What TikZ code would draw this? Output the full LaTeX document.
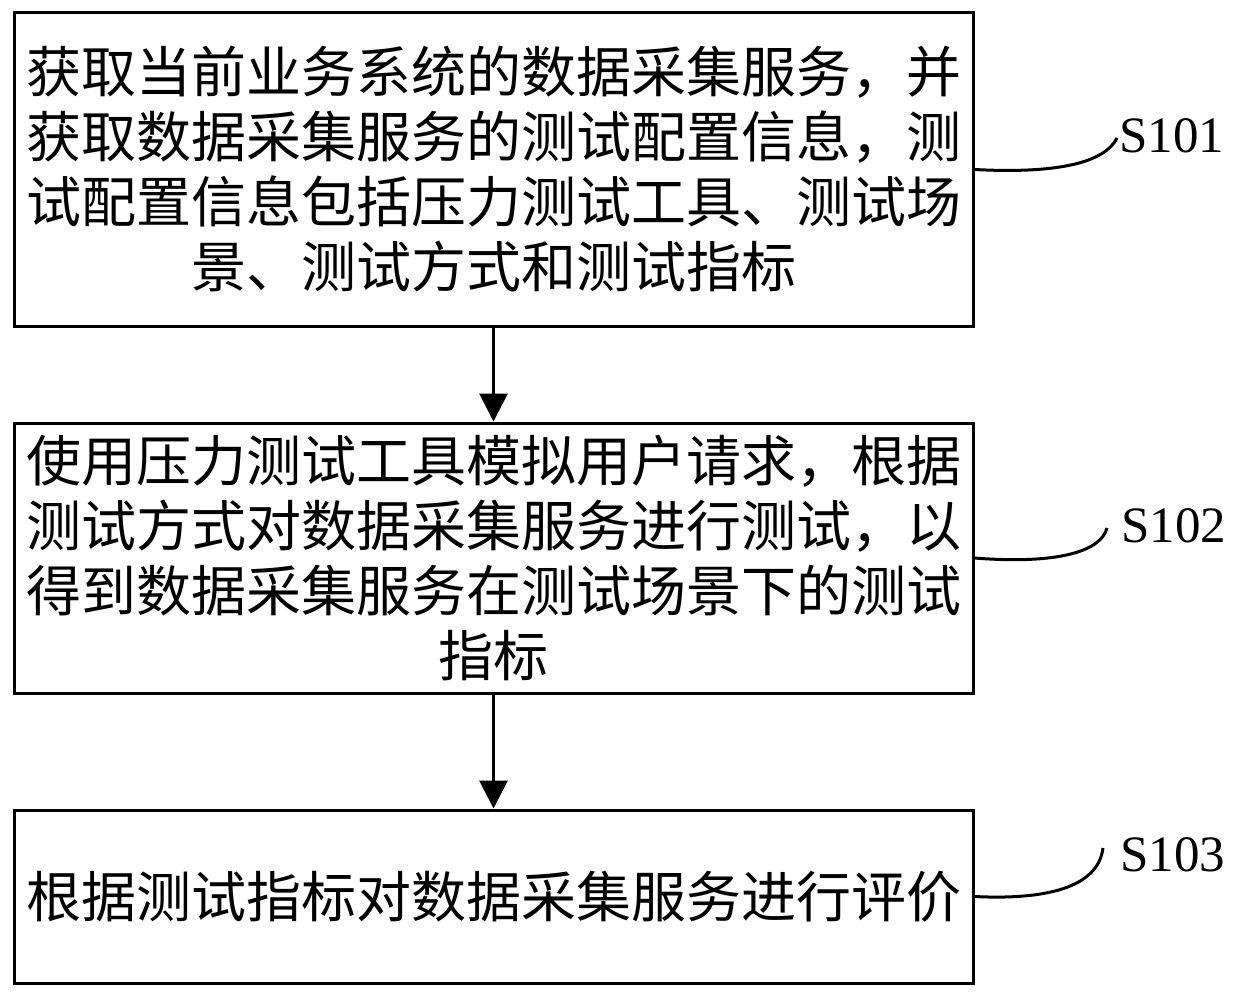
\documentclass[tikz,border=0pt]{standalone}
\usepackage{fontspec}
\setmainfont{Liberation Serif}
\newfontfamily\cjk{Noto Sans CJK SC}[Scale=1]
\usetikzlibrary{arrows.meta}
\begin{document}
\begin{tikzpicture}[x=1pt,y=-1pt,
  box/.style={draw,line width=3pt,minimum width=959pt,inner sep=0pt,align=center,
    font=\cjk\fontsize{55}{65}\selectfont},
  lab/.style={font=\fontsize{51}{60}\selectfont,inner sep=0pt},
  arr/.style={line width=3pt,-{Triangle[width=28pt,length=28pt]}},
  lead/.style={line width=3pt}]
\useasboundingbox (0,0) rectangle (1241,998);
\node[box,minimum height=313pt] (b1) at (493.5,169.5)
  {获取当前业务系统的数据采集服务，并\\获取数据采集服务的测试配置信息，测\\试配置信息包括压力测试工具、测试场\\景、测试方式和测试指标};
\node[box,minimum height=270pt] (b2) at (493.5,558)
  {使用压力测试工具模拟用户请求，根据\\测试方式对数据采集服务进行测试，以\\得到数据采集服务在测试场景下的测试\\指标};
\node[box,minimum height=173pt] (b3) at (493.5,896.5)
  {根据测试指标对数据采集服务进行评价};
\draw[arr] (b1.south) -- (b2.north);
\draw[arr] (b2.south) -- (b3.north);
\node[lab] (l1) at (1172,136) {S101};
\node[lab] (l2) at (1174,526) {S102};
\node[lab] (l3) at (1173,855) {S103};
\coordinate (e1) at (1117,138);
\coordinate (e2) at (1107,528);
\coordinate (e3) at (1103,848);
\draw[lead] (b1.east) .. controls (1060,174) and (1105,162) .. (e1);
\draw[lead] (b2.east) .. controls (1050,564) and (1100,554) .. (e2);
\draw[lead] (b3.east) .. controls (1045,900) and (1098,888) .. (e3);
\end{tikzpicture}
\end{document}
